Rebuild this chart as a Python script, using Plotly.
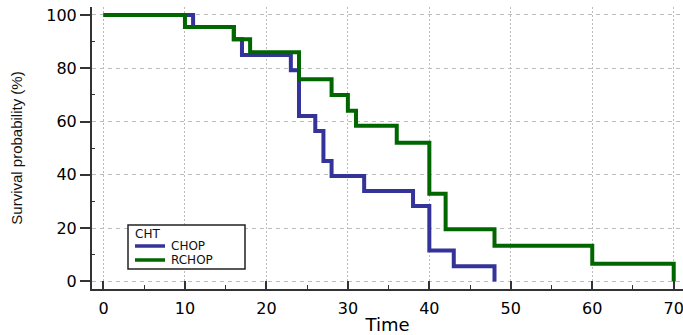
import plotly.graph_objects as go

# Kaplan-Meier step data (time, survival %)
chop_time = [0, 11, 16, 17, 23, 24, 26, 27, 28, 32, 38, 40, 43, 48, 48]
chop_surv = [100, 95.5, 90.9, 85.0, 79.3, 62.1, 56.5, 45.2, 39.6, 33.9, 28.3, 11.6, 5.7, 5.7, 0]

rchop_time = [0, 10, 16, 18, 24, 28, 30, 31, 36, 40, 42, 48, 60, 70, 70]
rchop_surv = [100, 95.5, 90.9, 86.0, 75.9, 70.0, 64.1, 58.4, 52.0, 32.9, 19.6, 13.4, 6.6, 6.6, 0]

series_names = ["CHOP", "RCHOP"]
series_colors = ["#333399", "#006600"]
legend_title = "CHT"

x_ticks = [0, 10, 20, 30, 40, 50, 60, 70]
y_ticks = [0, 20, 40, 60, 80, 100]

W, H = 683, 335
ML, MR, MT, MB = 92, 0, 7, 46
PW, PH = W - ML - MR, H - MT - MB


def px(x):
    return (x - ML) / PW


def py(y):
    return (H - MB - y) / PH


fig = go.Figure()
for t, s, n, c in [(chop_time, chop_surv, series_names[0], series_colors[0]),
                   (rchop_time, rchop_surv, series_names[1], series_colors[1])]:
    fig.add_trace(go.Scatter(x=t, y=s, mode="lines", name=n,
                             line=dict(color=c, width=4, shape="hv"),
                             showlegend=False))

axis_font = dict(family="DejaVu Sans", size=16, color="#000000")
leg_font = dict(family="DejaVu Sans", size=12, color="#111111")

# Manual compact legend (box, title, entries)
shapes = [dict(type="rect", xref="paper", yref="paper",
               x0=px(128), x1=px(245), y0=py(225), y1=py(269),
               line=dict(color="#222222", width=1.5), fillcolor="white", layer="above")]
annotations = [dict(text=legend_title, xref="paper", yref="paper", x=px(133), y=py(234),
                    xanchor="left", yanchor="middle", showarrow=False, font=leg_font)]
for i, (n, c) in enumerate(zip(series_names, series_colors)):
    yy = 246 + i * 14
    shapes.append(dict(type="line", xref="paper", yref="paper",
                       x0=px(135), x1=px(165), y0=py(yy), y1=py(yy),
                       line=dict(color=c, width=3.5), layer="above"))
    annotations.append(dict(text=n, xref="paper", yref="paper", x=px(170), y=py(yy),
                            xanchor="left", yanchor="middle", showarrow=False, font=leg_font,
                            borderpad=0))

fig.update_layout(
    width=W, height=H,
    margin=dict(l=ML, r=MR, t=MT, b=MB),
    paper_bgcolor="white", plot_bgcolor="white",
    showlegend=False,
    shapes=shapes, annotations=annotations,
    xaxis=dict(
        range=[-1.41, 71.14], tickmode="array", tickvals=x_ticks,
        ticktext=[str(v) for v in x_ticks],
        showline=True, linecolor="#333333", linewidth=2,
        ticks="inside", ticklen=8, tickwidth=2, tickcolor="#333333",
        showgrid=True, gridcolor="#bdbdbd", griddash="2px,2px", gridwidth=1,
        zeroline=False, tickfont=axis_font, ticklabelstandoff=4,
        ticklabeloverflow="allow", automargin=False,
        minor=dict(tickvals=[5, 15, 25, 35, 45, 55, 65], ticks="inside", ticklen=4,
                   tickwidth=1, tickcolor="#333333", showgrid=False),
        title=dict(text="Time", font=dict(family="DejaVu Sans", size=18, color="#000000"),
                   standoff=9),
    ),
    yaxis=dict(
        range=[-2.85, 103.0], tickmode="array", tickvals=y_ticks,
        ticktext=[str(v) for v in y_ticks],
        showline=True, linecolor="#333333", linewidth=2,
        ticks="outside", ticklen=10, tickwidth=2, tickcolor="#333333",
        showgrid=True, gridcolor="#bdbdbd", griddash="4px,4px", gridwidth=1,
        zeroline=False, tickfont=axis_font, automargin=False,
        minor=dict(tickvals=[10, 30, 50, 70, 90], ticks="inside", ticklen=3,
                   tickwidth=1, tickcolor="#333333", showgrid=False),
        title=dict(text="Survival probability (%)",
                   font=dict(family="Liberation Sans", size=15, color="#111111"),
                   standoff=20),
    ),
)

fig.write_html("out.html", config={"displayModeBar": False},
               post_script="document.body.style.margin='0';")
